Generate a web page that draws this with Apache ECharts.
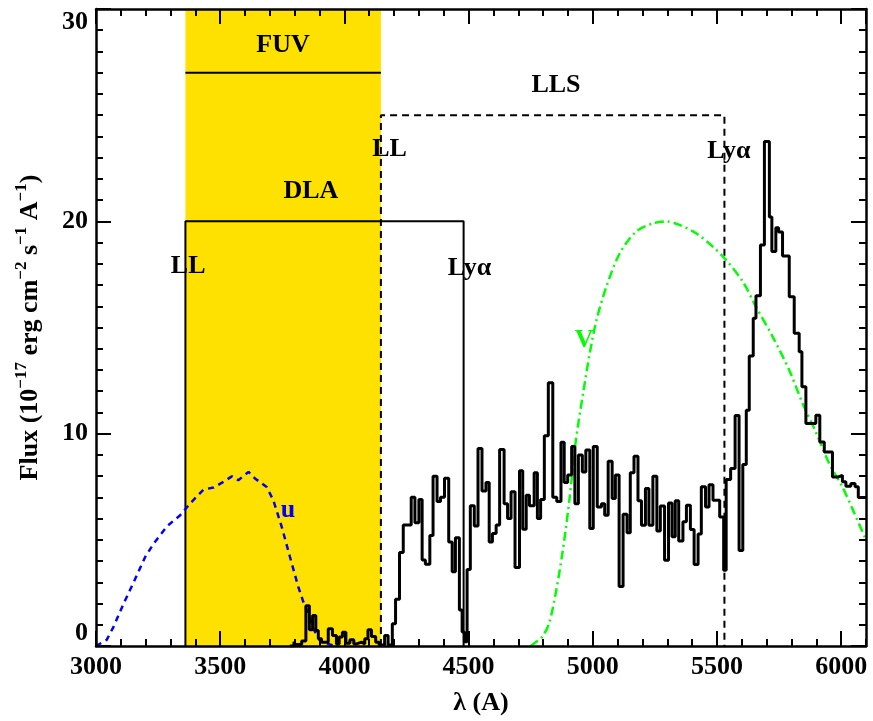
<!DOCTYPE html>
<html>
<head>
<meta charset="utf-8">
<script src="https://cdn.jsdelivr.net/npm/echarts@6/dist/echarts.min.js"></script>
<style>
  html, body { margin: 0; padding: 0; background: #fff; }
  #chart { width: 873px; height: 721px; }
</style>
</head>
<body>
<div id="chart"></div>
<script>
// Observed spectrum: bin start wavelength (A) and flux (1e-17 erg/cm2/s/A)
const specWave = [
  3780, 3797, 3800, 3828, 3845, 3859, 3872, 3885, 3895, 3908,
  3935, 3952, 3968, 3979, 3992, 4006, 4022, 4038, 4049, 4069,
  4082, 4095, 4109, 4126, 4140, 4162, 4176, 4193, 4206, 4222,
  4237, 4269, 4284, 4300, 4313, 4326, 4344, 4357, 4373, 4387,
  4403, 4420, 4434, 4447, 4463, 4474, 4483, 4494, 4507, 4523,
  4538, 4554, 4570, 4583, 4596, 4611, 4625, 4643, 4657, 4671,
  4687, 4705, 4718, 4732, 4745, 4764, 4777, 4790, 4805, 4821,
  4839, 4855, 4872, 4885, 4899, 4915, 4928, 4942, 4958, 4972,
  4988, 5002, 5018, 5035, 5048, 5062, 5078, 5091, 5106, 5122,
  5138, 5151, 5166, 5182, 5196, 5212, 5226, 5242, 5258, 5272,
  5289, 5305, 5319, 5332, 5346, 5363, 5377, 5393, 5408, 5424,
  5437, 5454, 5468, 5484, 5511, 5527, 5537, 5555, 5573, 5589,
  5604, 5618, 5630, 5646, 5657, 5675, 5691, 5711, 5721, 5737,
  5748, 5764, 5791, 5811, 5831, 5842, 5858, 5898, 5914, 5932,
  5965, 5989, 6005, 6019, 6039, 6056, 6069
];
const specFlux = [
  0.00, 0.20, 0.07, 0.23, 1.90, 0.76, 1.44, 0.73, 0.34, 0.18,
  0.81, 0.50, 0.10, 0.42, 0.65, 0.13, 0.29, 0.10, 0.18, 0.10,
  0.34, 0.76, 0.45, 0.18, 0.05, 0.50, 0.05, 1.05, 2.20, 4.40,
  5.70, 7.00, 5.80, 6.90, 4.05, 3.85, 5.20, 8.00, 6.80, 7.00,
  7.90, 4.90, 3.50, 5.10, 1.70, 0.66, 0.20, 3.60, 6.60, 5.65,
  9.30, 7.30, 7.70, 4.90, 5.30, 5.70, 9.26, 6.70, 6.00, 7.26,
  3.70, 8.25, 5.50, 7.10, 6.60, 8.16, 6.00, 6.90, 9.90, 12.40,
  7.00, 6.80, 9.60, 7.70, 8.05, 9.40, 6.70, 9.00, 8.20, 9.23,
  5.53, 9.40, 6.55, 6.70, 6.16, 8.70, 6.95, 8.05, 2.80, 6.20,
  5.33, 8.16, 8.94, 6.84, 5.69, 7.42, 5.69, 8.00, 5.42, 6.59,
  4.04, 6.74, 5.14, 6.84, 4.95, 5.85, 6.63, 5.49, 3.84, 5.27,
  7.50, 6.55, 7.60, 6.87, 6.08, 3.57, 7.84, 8.36, 10.85, 4.50,
  8.55, 11.10, 13.66, 15.43, 16.50, 18.89, 23.76, 20.20, 18.58, 19.70,
  19.50, 18.37, 16.45, 14.73, 13.86, 12.21, 10.48, 10.87, 9.61, 9.14,
  7.96, 8.04, 7.73, 7.52, 7.65, 7.50, 6.99
];
const specEnd = 6100;

// u-band filter response (scaled)
const uWave = [3000, 3043, 3070, 3111, 3152, 3198, 3232, 3286, 3339, 3379,
               3433, 3473, 3513, 3547, 3573, 3614, 3640, 3687, 3714, 3748,
               3781, 3814, 3835, 3855, 3875, 3901, 3942, 3968];
const uFlux = [0.00, 0.29, 0.89, 1.99, 3.01, 4.19, 4.82, 5.64, 6.16, 6.71,
               7.37, 7.46, 7.73, 7.99, 7.81, 8.20, 7.89, 7.49, 6.86, 5.60,
               4.19, 2.80, 2.07, 1.52, 0.81, 0.26, 0.07, 0.00];

// V-band filter response (scaled)
const vWave = [4750, 4768, 4798, 4825, 4851, 4878, 4905, 4931, 4961, 4988,
               5015, 5055, 5109, 5175, 5242, 5296, 5349, 5416, 5483, 5537,
               5604, 5657, 5724, 5791, 5845, 5898, 5952, 6005, 6045, 6100];
const vFlux = [0.00, 0.16, 0.45, 1.10, 2.50, 4.40, 6.80, 9.60, 11.90, 13.80,
               15.35, 16.93, 18.50, 19.52, 19.90, 20.00, 19.83, 19.44, 18.81, 18.18,
               17.16, 15.98, 14.57, 12.99, 11.42, 10.08, 8.59, 7.49, 6.47, 5.00];

// Absorber wavelengths (A) and marker levels
const dlaLL = 3360, dlaLya = 4480, dlaLevel = 20;
const llsLL = 4147, llsLya = 5530, llsLevel = 25;
const fuvStart = 3360, fuvEnd = 4147, fuvLevel = 27;

// Text annotations: text, wavelength, flux
const noteText = ['FUV', 'LLS', 'LL', 'DLA', 'LL', 'Lyα', 'Lyα', 'u', 'V'];
const noteWave = [3753, 4852, 4182, 3865, 3371, 4504, 5548, 3773, 4965];
const noteFlux = [28.3, 26.4, 23.4, 21.4, 17.9, 17.8, 23.3, 6.4, 14.4];
const noteKind = ['k', 'k', 'k', 'k', 'k', 'k', 'k', 'u', 'v'];

const FONT = 'Liberation Serif';
const kindColor = { k: '#000000', u: '#0000ff', v: '#00ff00' };

const specData = specWave.map((w, i) => [w, specFlux[i]]);
specData.push([specEnd, specFlux[specFlux.length - 1]]);
const uData = uWave.map((w, i) => [w, uFlux[i]]);
const vData = vWave.map((w, i) => [w, vFlux[i]]);
const noteData = noteText.map((t, i) => ({
  name: t,
  value: [noteWave[i], noteFlux[i]],
  label: { color: kindColor[noteKind[i]] }
}));

const frameLine = { show: true, onZero: false, lineStyle: { color: '#000', width: 2.5 } };
const majorTick = { show: true, inside: true, length: 15, lineStyle: { color: '#000', width: 2 } };
const minorTickX = { show: true, inside: true, length: 7, lineStyle: { color: '#000', width: 2 } };
const tickText = { fontFamily: FONT, fontWeight: 'bold', fontSize: 26, color: '#000' };

function xAxisDef(pos, interval, major, labels) {
  return {
    type: 'value', position: pos, min: 3000, max: 6100, interval: interval,
    z: 10,
    axisLine: major ? frameLine : { show: false, onZero: false },
    axisTick: major ? majorTick : minorTickX,
    axisLabel: labels
      ? Object.assign({ show: true, margin: 8, showMaxLabel: false, formatter: v => String(v) }, tickText)
      : { show: false },
    splitLine: { show: false }
  };
}

const chart = echarts.init(document.getElementById('chart'), null, { renderer: 'canvas' });
chart.setOption({
  animation: false,
  backgroundColor: '#fff',
  grid: { left: 96, right: 7, top: 9, bottom: 75, containLabel: false },
  xAxis: [
    Object.assign(xAxisDef('bottom', 500, true, true), {
      name: 'λ (A)', nameLocation: 'middle', nameGap: 44,
      nameTextStyle: { fontFamily: FONT, fontWeight: 'bold', fontSize: 26, color: '#000' }
    }),
    xAxisDef('top', 500, true, false),
    xAxisDef('bottom', 100, false, false),
    xAxisDef('top', 100, false, false)
  ],
  yAxis: [
    {
      type: 'value', position: 'left', min: 0, max: 30, interval: 10, z: 10,
      axisLine: frameLine, axisTick: majorTick,
      minorTick: { show: true, splitNumber: 10, length: 7, lineStyle: { color: '#000', width: 2 } },
      axisLabel: Object.assign({ margin: 8, verticalAlignMinLabel: 'bottom', verticalAlignMaxLabel: 'top' }, tickText),
      splitLine: { show: false }, minorSplitLine: { show: false },
      name: 'Flux (10{s|−17} erg cm{s|−2} s{s|−1} A{s|−1})',
      nameLocation: 'middle', nameRotate: 90, nameGap: 49,
      nameTextStyle: {
        fontFamily: FONT, fontWeight: 'bold', fontSize: 26, color: '#000', lineHeight: 34,
        rich: { s: { fontFamily: FONT, fontWeight: 'bold', fontSize: 17, color: '#000', verticalAlign: 'top', lineHeight: 17 } }
      }
    },
    {
      type: 'value', position: 'right', min: 0, max: 30, interval: 10, z: 10,
      axisLine: frameLine, axisTick: majorTick,
      minorTick: { show: true, splitNumber: 10, length: 7, lineStyle: { color: '#000', width: 2 } },
      axisLabel: { show: false },
      splitLine: { show: false }, minorSplitLine: { show: false }
    }
  ],
  series: [
    {
      // FUV band and its level marker
      type: 'line', z: 1, symbol: 'none', silent: true,
      data: [[fuvStart, fuvLevel], [fuvEnd, fuvLevel]],
      lineStyle: { color: '#000', width: 2 },
      markArea: {
        silent: true,
        itemStyle: { color: '#ffe100', opacity: 1 },
        data: [[{ xAxis: fuvStart }, { xAxis: fuvEnd }]]
      }
    },
    {
      // DLA: Lyman limit to Lyman alpha
      type: 'line', z: 2, symbol: 'none', silent: true,
      data: [[dlaLL, 0], [dlaLL, dlaLevel], [dlaLya, dlaLevel], [dlaLya, 0]],
      lineStyle: { color: '#000', width: 2 }
    },
    {
      // LLS: Lyman limit to Lyman alpha
      type: 'line', z: 2, symbol: 'none', silent: true,
      data: [[llsLL, 0], [llsLL, llsLevel], [llsLya, llsLevel], [llsLya, 0]],
      lineStyle: { color: '#000', width: 2, type: [7, 5] }
    },
    {
      type: 'line', z: 3, symbol: 'none', silent: true, data: uData,
      lineStyle: { color: '#0000ff', width: 2.5, type: [6, 5] }
    },
    {
      type: 'line', z: 3, symbol: 'none', silent: true, data: vData, smooth: 0.3,
      lineStyle: { color: '#00ff00', width: 2.5, type: [9, 4, 2, 4] }
    },
    {
      type: 'line', z: 4, symbol: 'none', silent: true, step: 'end', data: specData,
      lineStyle: { color: '#000', width: 3 }
    },
    {
      type: 'scatter', z: 6, symbolSize: 0, silent: true, data: noteData,
      itemStyle: { opacity: 1 },
      label: {
        show: true, position: 'inside', formatter: '{b}', color: '#000',
        fontFamily: FONT, fontWeight: 'bold', fontSize: 26, opacity: 1
      }
    }
  ]
});
</script>
</body>
</html>
